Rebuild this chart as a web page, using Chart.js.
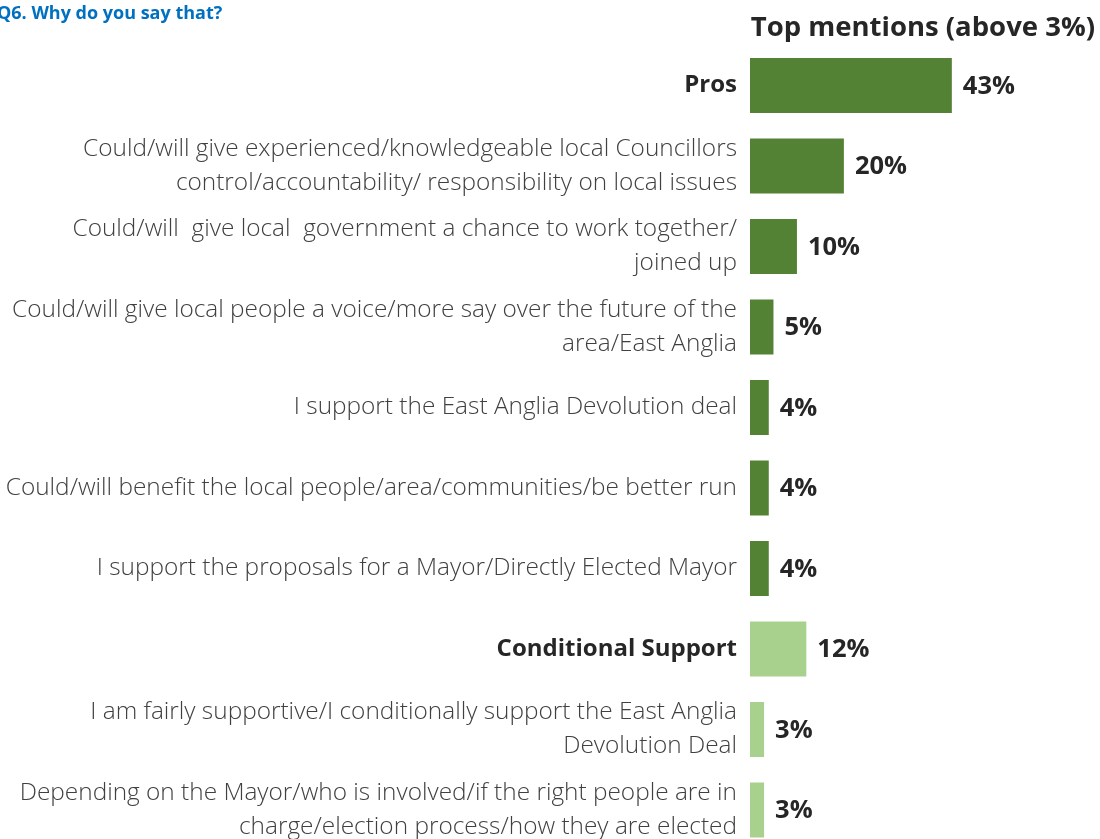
<!DOCTYPE html>
<html>
<head>
<meta charset="utf-8">
<title>Q6. Why do you say that?</title>
<script src="https://cdn.jsdelivr.net/npm/chart.js@4.4.1/dist/chart.umd.min.js"></script>
<style>
  html, body { margin: 0; padding: 0; background: #fff; overflow: hidden; }
  #wrap { position: relative; width: 1100px; height: 882px; }
  #mentionsChart { position: absolute; left: 0; top: -2px; }
  #question {
    position: absolute; left: -3px; top: 0px; z-index: 1;
    font-family: "Open Sans", sans-serif; font-weight: 700; font-size: 18px;
    color: #0070C0; white-space: nowrap;
  }
</style>
</head>
<body>
<div id="wrap">
  <div id="question">Q6. Why do you say that?</div>
  <canvas id="mentionsChart" width="1100" height="882"></canvas>
</div>
<script>
// categories (multi-line labels as arrays)
const categories = [
    'Pros',
    ['Could/will give experienced/knowledgeable local Councillors', 'control/accountability/ responsibility on local issues'],
    ['Could/will  give local  government a chance to work together/', 'joined up'],
    ['Could/will give local people a voice/more say over the future of the', 'area/East Anglia'],
    'I support the East Anglia Devolution deal',
    'Could/will benefit the local people/area/communities/be better run',
    'I support the proposals for a Mayor/Directly Elected Mayor',
    'Conditional Support',
    ['I am fairly supportive/I conditionally support the East Anglia', 'Devolution Deal'],
    ['Depending on the Mayor/who is involved/if the right people are in', 'charge/election process/how they are elected']
];
const values = [43, 20, 10, 5, 4, 4, 4, 12, 3, 3];
const groups = ['pros', 'pros', 'pros', 'pros', 'pros', 'pros', 'pros', 'cond', 'cond', 'cond'];
const headings = [0, 7];

const groupColors = { pros: '#548235', cond: '#A9D18E' };
const FONT = '"Open Sans", "Noto Sans", sans-serif';

// value labels at the end of each bar
const valueLabels = {
    id: 'valueLabels',
    afterDatasetsDraw(chart) {
        const ctx = chart.ctx;
        const meta = chart.getDatasetMeta(0);
        ctx.save();
        ctx.font = 'bold 25.5px ' + FONT;
        ctx.fillStyle = '#262626';
        ctx.textAlign = 'left';
        ctx.textBaseline = 'middle';
        meta.data.forEach((bar, i) => {
            ctx.fillText(values[i] + '%', bar.x + 11, bar.y + 1);
        });
        ctx.restore();
    }
};

const canvas = document.getElementById('mentionsChart');
new Chart(canvas.getContext('2d'), {
    type: 'bar',
    data: {
        labels: categories,
        datasets: [{
            data: values,
            backgroundColor: groups.map(g => groupColors[g]),
            borderWidth: 0,
            categoryPercentage: 0.684,
            barPercentage: 1
        }]
    },
    options: {
        indexAxis: 'y',
        responsive: false,
        animation: false,
        layout: { padding: { left: 0, right: 5, top: 0, bottom: 0 } },
        scales: {
            x: {
                display: false,
                min: 0,
                max: 73.5
            },
            y: {
                grid: { display: false, drawTicks: false },
                border: { display: false },
                afterFit: scale => { scale.width = 750; },
                ticks: {
                    padding: 13,
                    color: ctx => headings.includes(ctx.index) ? '#262626' : '#404040',
                    font: ctx => headings.includes(ctx.index)
                        ? { family: FONT, size: 24, weight: 'bold', lineHeight: 1.4 }
                        : { family: FONT, size: 24.4, weight: '300', lineHeight: 1.4 }
                }
            }
        },
        plugins: {
            legend: { display: false },
            tooltip: { enabled: false },
            title: {
                display: true,
                text: 'Top mentions (above 3%)',
                align: 'end',
                color: '#262626',
                font: { family: FONT, size: 27.5, weight: 'bold', lineHeight: 1.2 },
                padding: { top: 10, bottom: 0 }
            }
        }
    },
    plugins: [valueLabels]
});
</script>
</body>
</html>
